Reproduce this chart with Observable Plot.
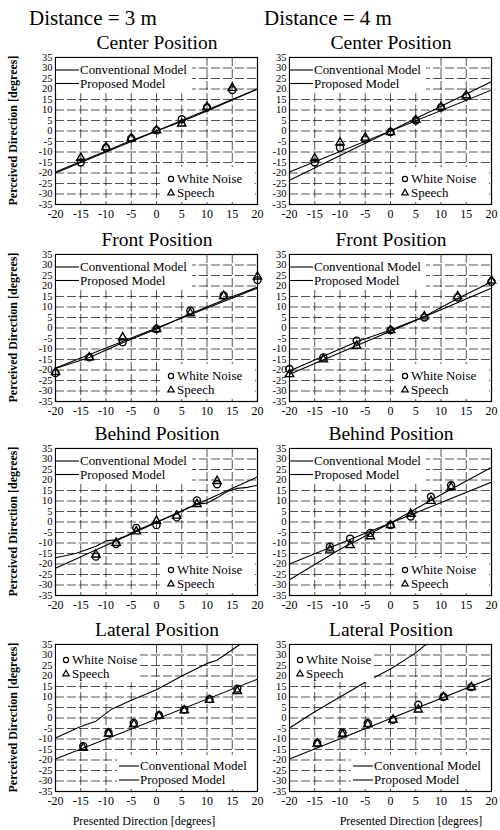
<!DOCTYPE html>
<html><head><meta charset="utf-8">
<script src="https://cdn.jsdelivr.net/npm/d3@7"></script>
<script src="https://cdn.jsdelivr.net/npm/@observablehq/plot@0.6"></script>
<style>
body{margin:0;background:#fff;font-family:"Liberation Serif","Times New Roman",serif;}
#page{position:relative;width:500px;height:830px;overflow:hidden;background:#fff;}
.plot{position:absolute;z-index:1;}
.plot text, .legend text, #texts text{font-family:"Liberation Serif","Times New Roman",serif !important;}
.legend{position:absolute;z-index:2;}
#texts{position:absolute;left:0;top:0;z-index:0;}
</style></head><body><div id="page"><svg id="texts" width="500" height="830"></svg></div>
<script>
// ---- text ----
const distances = ["Distance = 3 m", "Distance = 4 m"];
const positions = ["Center Position", "Front Position", "Behind Position", "Lateral Position"];
const seriesNames = ["White Noise", "Speech"];
const modelNames = ["Conventional Model", "Proposed Model"];
const xLabel = "Presented Direction [degrees]";
const yLabel = "Perceived Direction [degrees]";
const xTicks = [-20, -15, -10, -5, 0, 5, 10, 15, 20];
const yTicks = [-35, -30, -25, -20, -15, -10, -5, 0, 5, 10, 15, 20, 25, 30, 35];
const xGrid = [-15, -10, -5, 0, 5, 10, 15];
const yGrid = [-30, -25, -20, -15, -10, -5, 0, 5, 10, 15, 20, 25, 30];

// ---- presented directions ----
const centerX = [-15, -10, -5, 0, 5, 10, 15];
const frontX = [-20, -13.3, -6.7, 0, 6.7, 13.3, 20];
const behindX = [-12, -8, -4, 0, 4, 8, 12];
const lateralX = [-14.5, -9.5, -4.5, 0.5, 5.5, 10.5, 16];

// ---- perceived directions (measured) ----
const center3Noise = [-15, -8, -3.5, 0.3, 5.6, 11.2, 19.5];
const center3Speech = [-12.8, -7.7, -3.5, 0.3, 3.5, 11.5, 20.5];
const center4Noise = [-15, -8, -4, -0.5, 5, 11.2, 16.5];
const center4Speech = [-13, -5.5, -3.2, -0.5, 5.3, 11.5, 17];
const front3Noise = [-21.5, -14, -6.8, -0.5, 8.2, 15.5, 22.8];
const front3Speech = [-21, -14, -4.5, -0.5, 7, 15.2, 24.5];
const front4Noise = [-19.5, -14, -6, -1, 5, 14.5, 22];
const front4Speech = [-22, -15, -8.5, -1, 5.5, 15, 22.5];
const behind3Noise = [-16.5, -10.5, -2.8, -1.5, 2.2, 10.3, 18];
const behind3Speech = [-15.5, -10, -4.5, 0.5, 3, 8.5, 19.5];
const behind4Noise = [-11.8, -7.9, -5.2, -1.5, 2.6, 12, 17.5];
const behind4Speech = [-13.2, -11, -6.8, -1.5, 3.9, 10, 16.5];
const lateral3Noise = [-13.4, -7, -2.4, 1.3, 4, 9, 14];
const lateral3Speech = [-14.2, -7.4, -3, 1, 3.6, 8.6, 12.8];
const lateral4Noise = [-12, -7, -2.5, -0.8, 6.3, 10, 14.7];
const lateral4Speech = [-12.2, -7.8, -3, -0.8, 4, 10, 14.7];

// ---- model curves ----
const center3ConvX = [-20, 20];
const center3ConvY = [-20, 20];
const center3PropX = [-20, -15, -10, -5, 0, 5, 10, 15, 20];
const center3PropY = [-19.5, -14.5, -9.5, -4.5, 0, 4.5, 9.5, 14.8, 20];
const center4ConvX = [-20, 20];
const center4ConvY = [-19.5, 19.5];
const center4PropX = [-20, 20];
const center4PropY = [-23.5, 23.5];
const front3ConvX = [-20, 20];
const front3ConvY = [-19, 19];
const front3PropX = [-20, -13.3, -6.7, 0, 6.7, 13.3, 20];
const front3PropY = [-19.3, -14, -7, -0.5, 6.8, 13.3, 19.5];
const front4ConvX = [-20, 20];
const front4ConvY = [-22, 19];
const front4PropX = [-20, -13.3, -6.7, 0, 6.7, 13.3, 20];
const front4PropY = [-20.5, -13.5, -6.5, -1, 5.5, 14, 22];
const behind3ConvX = [-20, 20];
const behind3ConvY = [-22, 21.5];
const behind3PropX = [-20, -16, -12, -10, -8, -6, -4, 0, 4, 6, 8, 10, 12, 14, 16, 18, 20];
const behind3PropY = [-17, -15, -11.5, -9, -8.5, -6.5, -4, 0, 4, 6.5, 8.5, 9, 11.5, 14.5, 16, 16.5, 17.5];
const behind4ConvX = [-20, 20];
const behind4ConvY = [-20, 19];
const behind4PropX = [-20, -10, 0, 10, 20];
const behind4PropY = [-27.5, -13, -0.5, 13, 26];
const lateral3ConvX = [-20, -15, -12, -9, -5, 0, 5, 10, 12, 16.5];
const lateral3ConvY = [-9.5, -4, -1.5, 4, 8.5, 13.5, 20, 26, 27.5, 35];
const lateral3PropX = [-20, 20];
const lateral3PropY = [-19.5, 18.5];
const lateral4ConvX = [-20, -15, -10, -5, 0, 5, 7];
const lateral4ConvY = [-4.8, 3, 10, 17, 23.3, 31, 35];
const lateral4PropX = [-20, 20];
const lateral4PropY = [-19.5, 19];

const panels = [
  {row: 0, col: 0, x: centerX, noise: center3Noise, speech: center3Speech, convX: center3ConvX, convY: center3ConvY, propX: center3PropX, propY: center3PropY},
  {row: 0, col: 1, x: centerX, noise: center4Noise, speech: center4Speech, convX: center4ConvX, convY: center4ConvY, propX: center4PropX, propY: center4PropY},
  {row: 1, col: 0, x: frontX, noise: front3Noise, speech: front3Speech, convX: front3ConvX, convY: front3ConvY, propX: front3PropX, propY: front3PropY},
  {row: 1, col: 1, x: frontX, noise: front4Noise, speech: front4Speech, convX: front4ConvX, convY: front4ConvY, propX: front4PropX, propY: front4PropY},
  {row: 2, col: 0, x: behindX, noise: behind3Noise, speech: behind3Speech, convX: behind3ConvX, convY: behind3ConvY, propX: behind3PropX, propY: behind3PropY},
  {row: 2, col: 1, x: behindX, noise: behind4Noise, speech: behind4Speech, convX: behind4ConvX, convY: behind4ConvY, propX: behind4PropX, propY: behind4PropY},
  {row: 3, col: 0, x: lateralX, noise: lateral3Noise, speech: lateral3Speech, convX: lateral3ConvX, convY: lateral3ConvY, propX: lateral3PropX, propY: lateral3PropY},
  {row: 3, col: 1, x: lateralX, noise: lateral4Noise, speech: lateral4Speech, convX: lateral4ConvX, convY: lateral4ConvY, propX: lateral4PropX, propY: lateral4PropY}
];

// ---- layout ----
const colLeft = [55, 289];
const rowTop = [57, 254, 448, 644];
const frameW = 202, frameH = 147;
const mL = 32, mR = 8, mT = 6, mB = 22;
const FONT = '"Liberation Serif", "Times New Roman", serif';

const page = document.getElementById("page");
const texts = d3.select("#texts");
const pairs = (xs, ys) => xs.map((x, i) => ({x, y: ys[i]}));

// headings
distances.forEach((t, i) => {
  texts.append("text").attr("x", [29, 264][i]).attr("y", 25)
    .attr("font-family", FONT).attr("font-size", 21).text(t);
});
panels.forEach(p => {
  texts.append("text").attr("x", colLeft[p.col] + frameW / 2 + 1).attr("y", rowTop[p.row] - 8)
    .attr("text-anchor", "middle").attr("font-family", FONT).attr("font-size", 19.5)
    .text(positions[p.row]);
});
rowTop.forEach(t => {
  texts.append("text").attr("transform", `translate(17,${t + frameH / 2}) rotate(-90)`)
    .attr("text-anchor", "middle").attr("font-family", FONT).attr("font-weight", "bold")
    .attr("font-size", 12).text(yLabel);
});
[144, 411].forEach(cx => {
  texts.append("text").attr("x", cx).attr("y", 825)
    .attr("text-anchor", "middle").attr("font-family", FONT).attr("font-size", 12).text(xLabel);
});

const lineStyle = {stroke: "#000", strokeWidth: 1.1, clip: true};
const gridStyle = {stroke: "#000", strokeOpacity: 0.85, strokeWidth: 0.8, strokeDasharray: "9,3"};

function stretch(sel, k) {
  const node = sel.node();
  const w = node.getComputedTextLength();
  if (w > 0) sel.attr("textLength", (w * k).toFixed(1)).attr("lengthAdjust", "spacingAndGlyphs");
}

panels.forEach(p => {
  const chart = Plot.plot({
    width: frameW + mL + mR, height: frameH + mT + mB,
    marginLeft: mL, marginRight: mR, marginTop: mT, marginBottom: mB,
    x: {domain: [-20, 20]}, y: {domain: [-35, 35]},
    style: {fontFamily: FONT, background: "transparent", color: "#000"},
    marks: [
      Plot.gridX(xGrid, gridStyle),
      Plot.gridY(yGrid, gridStyle),
      Plot.line(pairs(p.convX, p.convY), {x: "x", y: "y", ...lineStyle}),
      Plot.line(pairs(p.propX, p.propY), {x: "x", y: "y", ...lineStyle}),
      Plot.dot(pairs(p.x, p.noise), {x: "x", y: "y", r: 3.5, stroke: "#000", strokeWidth: 1.4, fill: "none"}),
      Plot.dot(pairs(p.x, p.speech), {x: "x", y: "y", symbol: "triangle", r: 3.1, stroke: "#000", strokeWidth: 1.4, fill: "none"}),
      Plot.axisX(xTicks, {tickSize: 0, tickPadding: 5, fontSize: 12, tickFormat: d => String(d), label: null}),
      Plot.axisY(yTicks, {tickSize: 0, tickPadding: 3, fontSize: 10.5, tickFormat: d => String(d), label: null}),
      Plot.frame({stroke: "#000", strokeWidth: 1.2})
    ]
  });
  chart.classList.add("plot");
  chart.style.left = (colLeft[p.col] - mL) + "px";
  chart.style.top = (rowTop[p.row] - mT) + "px";
  page.appendChild(chart);

  const fl = colLeft[p.col], ft = rowTop[p.row];
  const lateral = p.row === 3;
  // model legend
  const lm = lateral ? {x: fl + 62, y: ft + 111, w: 139, h: 34, lx: 2, tx: 23} : {x: fl + 1, y: ft + 1, w: 136, h: 32, lx: 0, tx: 24};
  const g1 = d3.select(page).append("svg").attr("class", "legend")
    .style("left", lm.x + "px").style("top", lm.y + "px").attr("width", lm.w).attr("height", lm.h);
  g1.append("rect").attr("width", lm.w).attr("height", lm.h).attr("fill", "#fff");
  modelNames.forEach((n, i) => {
    const yy = lateral ? 11 + i * 14 : 12 + i * 13.5;
    g1.append("line").attr("x1", lm.lx).attr("x2", lm.tx - 1).attr("y1", yy).attr("y2", yy)
      .attr("stroke", "#000").attr("stroke-width", 1.1);
    const t = g1.append("text").attr("x", lm.tx).attr("y", yy + 4).attr("font-family", FONT).attr("font-size", 12).text(n);
    stretch(t, 1.08);
  });
  // series legend
  const sm = lateral ? {x: fl + 1, y: ft + 1, w: 84, h: 37} : {x: fl + 106, y: ft + 110, w: 94, h: 35};
  const g2 = d3.select(page).append("svg").attr("class", "legend")
    .style("left", sm.x + "px").style("top", sm.y + "px").attr("width", sm.w).attr("height", sm.h);
  g2.append("rect").attr("width", sm.w).attr("height", sm.h).attr("fill", "#fff");
  seriesNames.forEach((n, i) => {
    const yy = lateral ? 15 + i * 13.5 : 12 + i * 13.5;
    const mx = 10;
    if (i === 0) g2.append("circle").attr("cx", mx).attr("cy", yy).attr("r", 2.6).attr("fill", "none").attr("stroke", "#000").attr("stroke-width", 1.2);
    else g2.append("path").attr("d", d3.symbol(d3.symbolTriangle, 18)()).attr("transform", `translate(${mx},${yy + 0.5})`).attr("fill", "none").attr("stroke", "#000").attr("stroke-width", 1.2);
    const t = g2.append("text").attr("x", mx + 6).attr("y", yy + 4).attr("font-family", FONT).attr("font-size", 12).text(n);
    stretch(t, 1.08);
  });
});
</script></body></html>
